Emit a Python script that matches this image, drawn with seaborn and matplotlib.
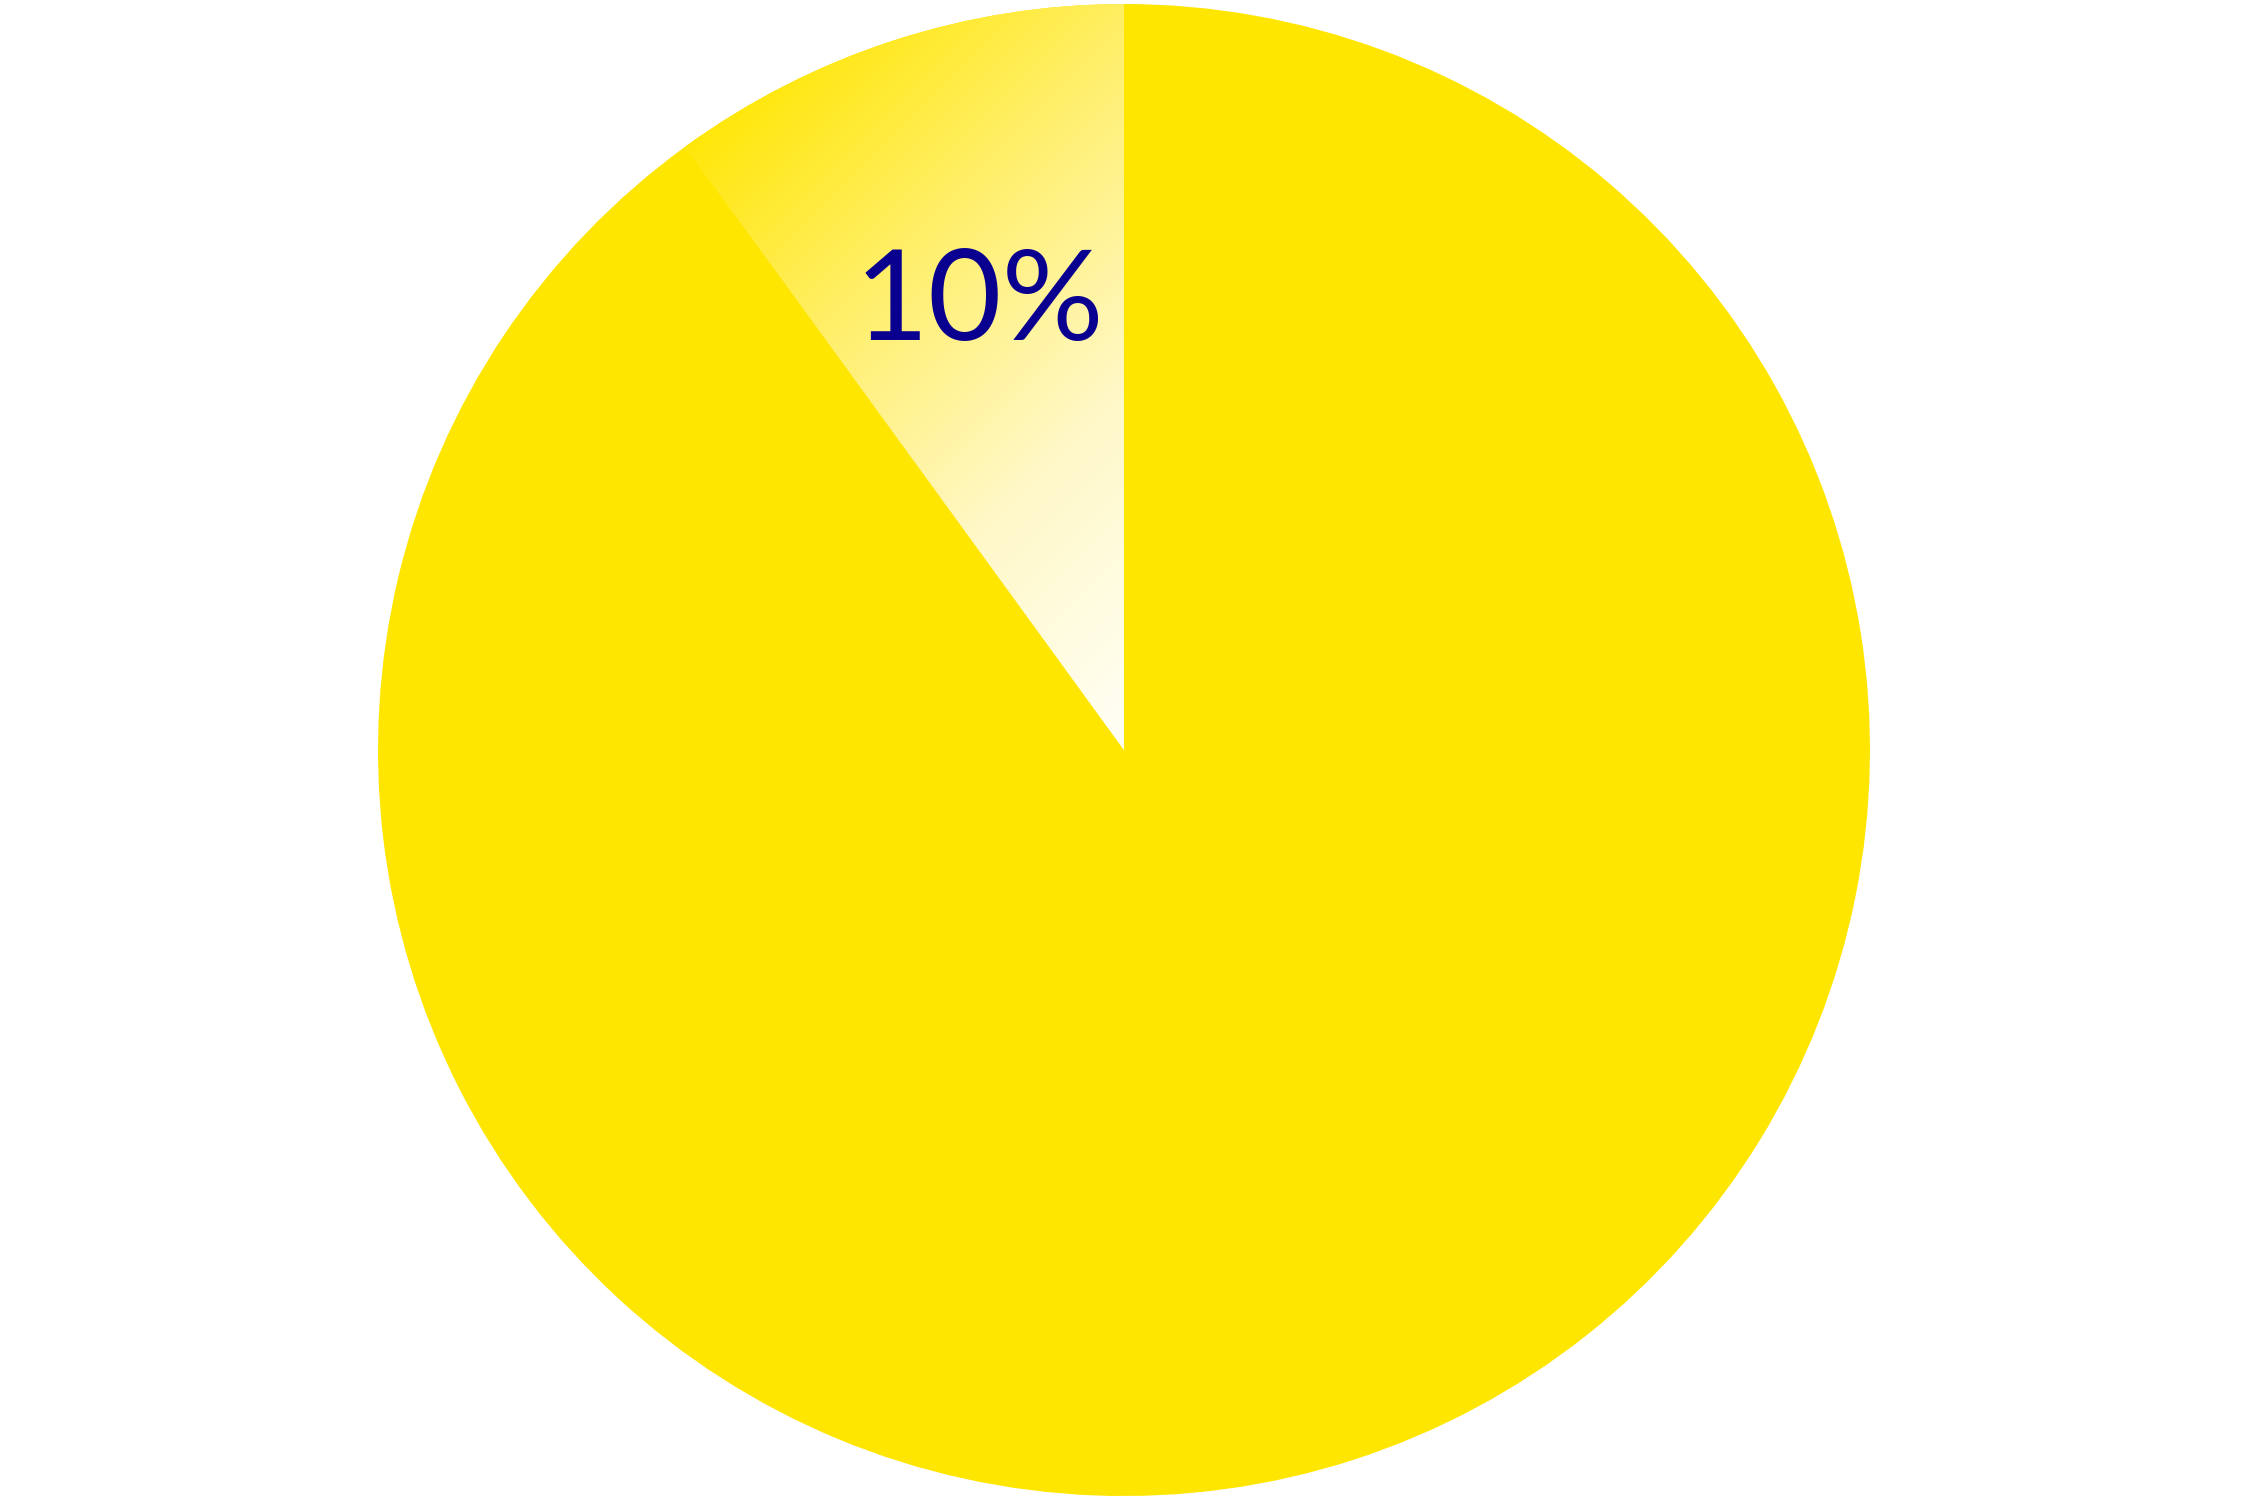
import numpy as np
import matplotlib
matplotlib.use("Agg")
import matplotlib.pyplot as plt
from matplotlib.colors import LinearSegmentedColormap
import seaborn as sns

# ---- data ----
categories = ["Share", "Rest"]
values = [10, 90]
label_text = ["10%", ""]

YELLOW = "#FFE600"
LABEL_COLOR = "#0A0090"

sns.set_theme(style="white")
plt.rcParams["font.family"] = ["Lato", "DejaVu Sans"]

W, H = 2250, 1500
fig = plt.figure(figsize=(15, 10), dpi=150)
ax = fig.add_axes([0, 0, 1, 1])
ax.set_axis_off()

cx, cy, r = 1124, 750, 746
wedges, _ = ax.pie(values, colors=[YELLOW, YELLOW], startangle=90, counterclock=True,
                   center=(cx, cy), radius=r, wedgeprops=dict(linewidth=0))

# gradient fill for the highlighted slice
cmap = LinearSegmentedColormap.from_list("g", [YELLOW, "#FFEF6A", "#FFF8C8", "#FFFFF6"])
xs = np.linspace(0, W, 600)
ys = np.linspace(0, H, 400)
X, Y = np.meshgrid(xs, ys)
xA, yA = 700, 1400
t = ((X - xA) + (yA - Y)) / ((cx - xA) + (yA - cy))
t = np.clip(t, 0, 1)
im = ax.imshow(t, extent=[0, W, 0, H], origin="lower", cmap=cmap, vmin=0, vmax=1,
               interpolation="bilinear", zorder=2)
im.set_clip_path(wedges[0])

# label
w = wedges[0]
theta = np.deg2rad((w.theta1 + w.theta2) / 2)
ax.text(cx + 0.628 * r * np.cos(theta), cy + 0.628 * r * np.sin(theta), label_text[0],
        ha="center", va="center", fontsize=61, color=LABEL_COLOR, zorder=3)

ax.set_xlim(0, W)
ax.set_ylim(0, H)
ax.set_aspect("equal")
fig.savefig("out.png", dpi=150, facecolor="white")
